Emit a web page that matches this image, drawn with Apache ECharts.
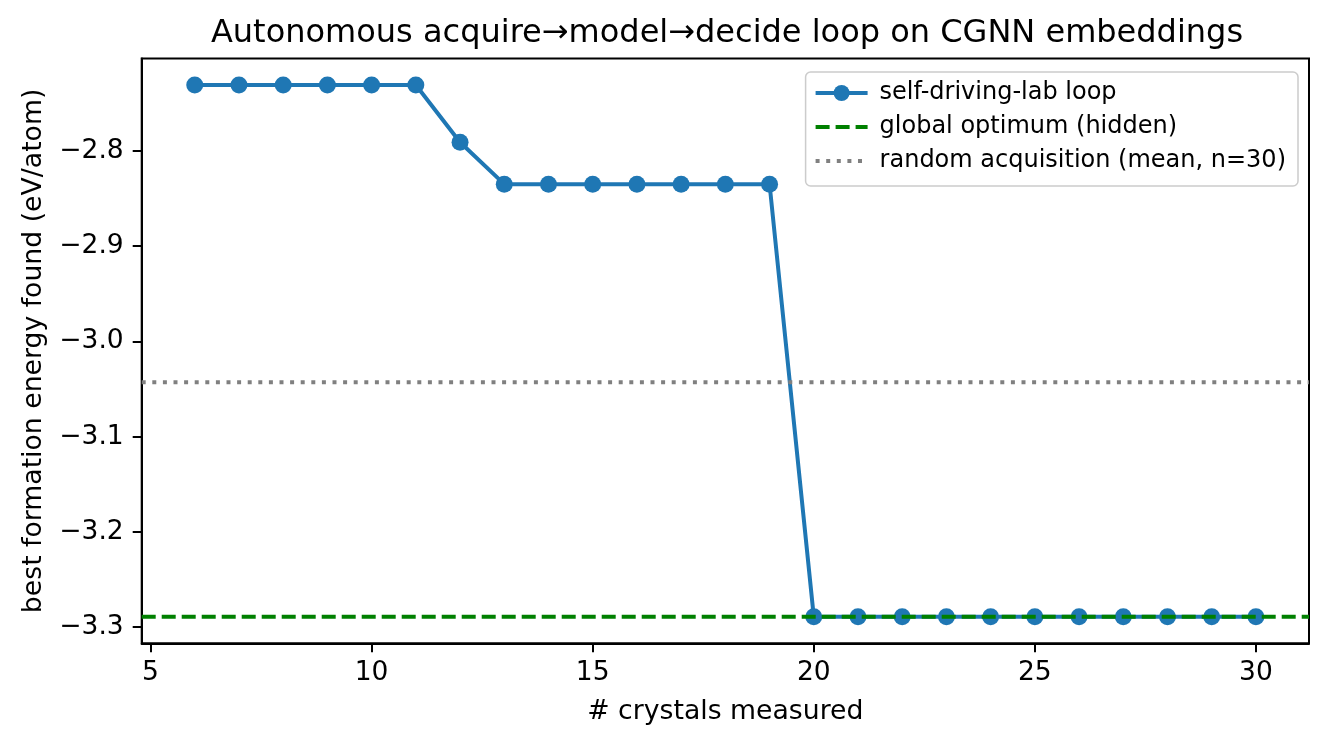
<!DOCTYPE html>
<html>
<head>
<meta charset="utf-8">
<script src="https://cdn.jsdelivr.net/npm/echarts@6/dist/echarts.min.js"></script>
<style>
html,body{margin:0;padding:0;background:#fff;}
#chart{width:1327px;height:747px;}
</style>
</head>
<body>
<div id="chart"></div>
<script>
// ---- data ----
const crystals = [6,7,8,9,10,11,12,13,14,15,16,17,18,19,20,21,22,23,24,25,26,27,28,29,30];
const bestEnergy = [-2.731,-2.731,-2.731,-2.731,-2.731,-2.731,-2.791,-2.835,-2.835,-2.835,-2.835,-2.835,-2.835,-2.835,
                    -3.289,-3.289,-3.289,-3.289,-3.289,-3.289,-3.289,-3.289,-3.289,-3.289,-3.289];
const globalOptimum = -3.289;
const randomMean = -3.043;
const xTicks = [5,10,15,20,25,30];
const yTicks = [-2.8,-2.9,-3.0,-3.1,-3.2,-3.3];
const X_MIN = 4.8, X_MAX = 31.2;
const Y_MIN = -3.3169, Y_MAX = -2.7031;

const FONT = "DejaVu Sans";
const fmt = v => (v < 0 ? '\u2212' : '') + Math.abs(v).toFixed(1);
const GREEN_DASH = [14, 6];
const GRAY_DOT = [4, 6.6];

const chart = echarts.init(document.getElementById('chart'));
chart.setOption({
  animation: false,
  backgroundColor: '#fff',
  title: {
    text: 'Autonomous acquire\u2192model\u2192decide loop on CGNN embeddings',
    left: 722, textAlign: 'center', top: 13,
    textStyle: {fontFamily: FONT, fontSize: 32, fontWeight: 'normal', color: '#000'}
  },
  grid: {left: 141.7, right: 18, top: 58.5, bottom: 103.7, show: true,
         borderColor: '#000', borderWidth: 2, backgroundColor: 'transparent'},
  legend: {
    right: 29, top: 72, orient: 'vertical',
    itemWidth: 52, itemHeight: 20, itemGap: 10,
    padding: [9, 12, 13, 8],
    backgroundColor: 'rgba(255,255,255,0.8)',
    borderColor: '#cccccc', borderWidth: 1.5, borderRadius: 5,
    textStyle: {fontFamily: FONT, fontSize: 24, color: '#000', padding: [0,0,0,7]},
    data: [
      {name: 'self-driving-lab loop', lineStyle: {width: 4}},
      {name: 'global optimum (hidden)', itemStyle: {opacity: 0}, lineStyle: {width: 4, type: GREEN_DASH}},
      {name: 'random acquisition (mean, n=30)', itemStyle: {opacity: 0}, lineStyle: {width: 4, type: GRAY_DOT}}
    ]
  },
  xAxis: {
    type: 'value', min: X_MIN, max: X_MAX,
    name: '# crystals measured', nameLocation: 'middle', nameGap: 55,
    nameTextStyle: {fontFamily: FONT, fontSize: 26.7, color: '#000'},
    axisLine: {show: true, lineStyle: {color: '#000', width: 2}},
    axisTick: {show: true, inside: false, length: 9, lineStyle: {color: '#000', width: 2}, customValues: xTicks},
    axisLabel: {fontFamily: FONT, fontSize: 26.5, color: '#000', margin: 16, customValues: xTicks,
                formatter: v => String(v)},
    splitLine: {show: false}
  },
  yAxis: {
    type: 'value', min: Y_MIN, max: Y_MAX,
    name: 'best formation energy found (eV/atom)', nameLocation: 'middle', nameGap: 94, nameRotate: 90,
    nameTextStyle: {fontFamily: FONT, fontSize: 26.7, color: '#000'},
    axisLine: {show: true, lineStyle: {color: '#000', width: 2}},
    axisTick: {show: true, inside: false, length: 9, lineStyle: {color: '#000', width: 2}, customValues: yTicks},
    axisLabel: {fontFamily: FONT, fontSize: 26.5, color: '#000', margin: 18, customValues: yTicks,
                formatter: fmt},
    splitLine: {show: false}
  },
  series: [
    {
      name: 'self-driving-lab loop', type: 'line',
      data: crystals.map((c, i) => [c, bestEnergy[i]]),
      symbol: 'circle', symbolSize: 17, showSymbol: true,
      itemStyle: {color: '#1f77b4'},
      lineStyle: {color: '#1f77b4', width: 4},
      z: 2
    },
    {
      name: 'global optimum (hidden)', type: 'line',
      data: [[X_MIN, globalOptimum], [X_MAX, globalOptimum]],
      symbol: 'none', showSymbol: false,
      itemStyle: {color: '#008000'},
      lineStyle: {color: '#008000', width: 4, type: GREEN_DASH},
      z: 3
    },
    {
      name: 'random acquisition (mean, n=30)', type: 'line',
      data: [[X_MIN, randomMean], [X_MAX, randomMean]],
      symbol: 'none', showSymbol: false,
      itemStyle: {color: '#808080'},
      lineStyle: {color: '#808080', width: 4, type: GRAY_DOT},
      z: 4
    }
  ]
});
</script>
</body>
</html>
